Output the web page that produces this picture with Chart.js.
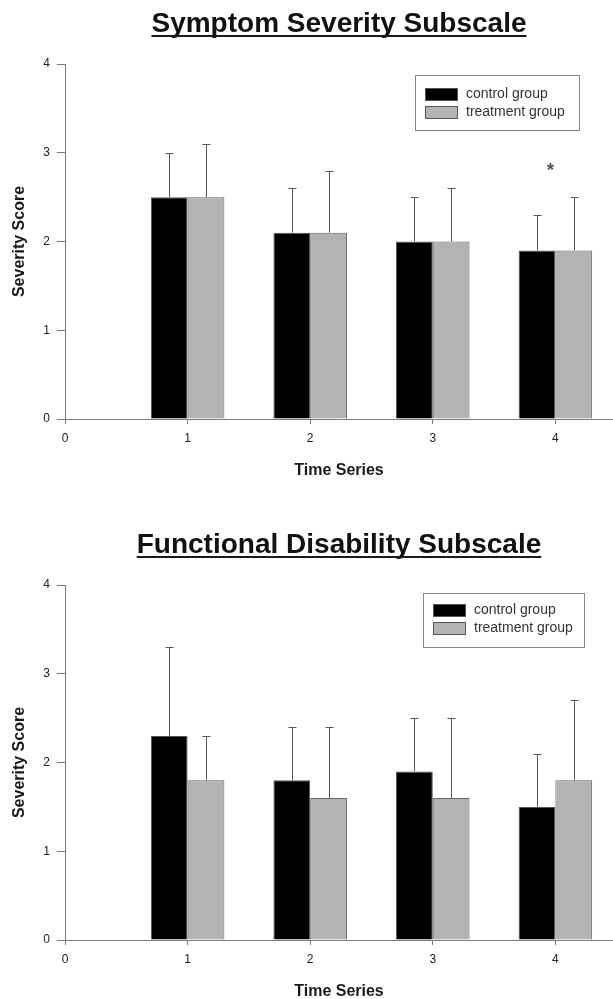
<!DOCTYPE html>
<html>
<head>
<meta charset="utf-8">
<script src="https://cdn.jsdelivr.net/npm/chart.js@4.4.1/dist/chart.umd.min.js"></script>
<style>
html,body{margin:0;padding:0;background:#fff;width:613px;height:999px;overflow:hidden;}
.wrap{position:absolute;left:0;width:613px;height:480px;}
</style>
</head>
<body>
<div class="wrap" style="top:0px"><canvas id="c1" width="613" height="480"></canvas></div>
<div class="wrap" style="top:521px"><canvas id="c2" width="613" height="480"></canvas></div>
<script>
// ---------- data ----------
const timePoints = [1, 2, 3, 4];
const xTickLabels = ['0', '1', '2', '3', '4'];
const yTickLabels = ['0', '1', '2', '3', '4'];
const seriesNames = ['control group', 'treatment group'];
const chartTitles = ['Symptom Severity Subscale', 'Functional Disability Subscale'];
const xAxisTitle = 'Time Series';
const yAxisTitle = 'Severity Score';

const symptomControl = [2.5, 2.1, 2.0, 1.9];
const symptomControlErrTop = [3.0, 2.6, 2.5, 2.3];
const symptomTreatment = [2.5, 2.1, 2.0, 1.9];
const symptomTreatmentErrTop = [3.1, 2.8, 2.6, 2.5];
const symptomMarks = [{ x: 3.96, y: 2.85, text: '*' }];

const functionalControl = [2.3, 1.8, 1.9, 1.5];
const functionalControlErrTop = [3.3, 2.4, 2.5, 2.1];
const functionalTreatment = [1.8, 1.6, 1.6, 1.8];
const functionalTreatmentErrTop = [2.3, 2.4, 2.5, 2.7];
const functionalMarks = [];

// ---------- styling ----------
const FONT = "'Liberation Sans', Arial, Helvetica, sans-serif";
Chart.defaults.font.family = FONT;
Chart.defaults.color = '#222';
const AXIS_GREY = '#7a7a7a';
const CONTROL_FILL = '#000000';
const TREAT_FILL = '#b3b3b3';

// error bars (upper only, with cap)
const errorBarPlugin = {
  id: 'errorBars',
  afterDatasetsDraw(chart) {
    const ctx = chart.ctx;
    const ys = chart.scales.y;
    chart.data.datasets.forEach((ds, di) => {
      const meta = chart.getDatasetMeta(di);
      meta.data.forEach((bar, i) => {
        const top = ys.getPixelForValue(ds.errorTop[i]);
        const x = Math.round(bar.x) + 0.5;
        const yt = Math.round(top) + 0.5;
        ctx.save();
        ctx.strokeStyle = '#555';
        ctx.lineWidth = 1;
        ctx.beginPath();
        ctx.moveTo(x, bar.y);
        ctx.lineTo(x, yt);
        ctx.moveTo(x - 4, yt);
        ctx.lineTo(x + 4, yt);
        ctx.stroke();
        ctx.restore();
      });
    });
  }
};

// significance marks at data coordinates
const marksPlugin = {
  id: 'marks',
  afterDatasetsDraw(chart, args, opts) {
    const ctx = chart.ctx;
    (opts.items || []).forEach(m => {
      const px = chart.scales.x.getPixelForValue(m.x);
      const py = chart.scales.y.getPixelForValue(m.y);
      ctx.save();
      ctx.font = 'bold 19px ' + FONT;
      ctx.fillStyle = '#555';
      ctx.textAlign = 'center';
      ctx.textBaseline = 'alphabetic';
      const mt = ctx.measureText(m.text);
      ctx.fillText(m.text, px, py + (mt.actualBoundingBoxAscent - mt.actualBoundingBoxDescent) / 2);
      ctx.restore();
    });
  }
};

// underline below the chart title
const underlinePlugin = {
  id: 'titleUnderline',
  afterDraw(chart) {
    const tb = chart.titleBlock;
    if (!tb) return;
    const topt = chart.options.plugins.title;
    const size = topt.font.size;
    const lh = size * 1.2;
    const midY = tb.top + topt.padding.top + lh / 2;
    const ctx = chart.ctx;
    ctx.save();
    ctx.font = 'bold ' + size + 'px ' + FONT;
    ctx.textBaseline = 'middle';
    const w = ctx.measureText(topt.text).width;
    const base = midY + ctx.measureText('H').actualBoundingBoxDescent;
    const cx = (tb.left + tb.right) / 2;
    ctx.fillStyle = '#1a1a1a';
    ctx.fillRect(cx - w / 2, Math.round(base + 3.5), w, 2);
    ctx.restore();
  }
};

// boxed legend inside the plot area
const boxLegendPlugin = {
  id: 'boxLegend',
  afterDraw(chart, args, o) {
    const ctx = chart.ctx;
    ctx.save();
    ctx.strokeStyle = '#888';
    ctx.lineWidth = 1;
    ctx.strokeRect(o.left + 0.5, o.top + 0.5, o.width, o.height);
    ctx.font = '14px ' + FONT;
    ctx.textBaseline = 'middle';
    ctx.textAlign = 'left';
    chart.data.datasets.forEach((ds, i) => {
      const sy = o.top + o.rowTop + i * o.rowGap;
      ctx.fillStyle = ds.backgroundColor;
      ctx.fillRect(o.left + o.swatchX, sy, 33, 13);
      ctx.strokeStyle = '#555';
      ctx.strokeRect(o.left + o.swatchX + 0.5, sy + 0.5, 32, 12);
      ctx.fillStyle = '#333';
      ctx.fillText(ds.label, o.left + o.swatchX + 33 + 8, sy + 6.5);
    });
    ctx.restore();
  }
};

function makeChart(id, title, control, controlErr, treat, treatErr, marks, legendPos) {
  return new Chart(document.getElementById(id), {
    type: 'bar',
    data: {
      labels: timePoints,
      datasets: [
        { label: seriesNames[0], data: control, errorTop: controlErr,
          backgroundColor: CONTROL_FILL, borderColor: '#555', borderWidth: 1 },
        { label: seriesNames[1], data: treat, errorTop: treatErr,
          backgroundColor: TREAT_FILL, borderColor: '#666', borderWidth: 1 }
      ]
    },
    plugins: [errorBarPlugin, marksPlugin, underlinePlugin, boxLegendPlugin],
    options: {
      responsive: false,
      animation: false,
      events: [],
      categoryPercentage: 0.6,
      barPercentage: 1.0,
      layout: { padding: { left: 0, right: 0, top: 0, bottom: 0 } },
      plugins: {
        legend: { display: false },
        tooltip: { enabled: false },
        title: {
          display: true, text: title, color: '#111', fullSize: false,
          font: { size: 28, weight: 'bold', family: FONT },
          padding: { top: 7, bottom: 23.4 }
        },
        marks: { items: marks },
        boxLegend: legendPos
      },
      scales: {
        x: {
          type: 'linear', min: 0, max: 4.47, offset: false,
          afterBuildTicks(s) { s.ticks = xTickLabels.map(l => ({ value: Number(l) })); },
          afterFit(s) { s.height = 61; },
          grid: { display: true, drawOnChartArea: false, drawTicks: true, tickLength: 5, color: AXIS_GREY, offset: false },
          border: { display: true, color: AXIS_GREY, width: 1 },
          ticks: { padding: 7, color: '#222', font: { size: 12 },
                   callback: v => xTickLabels.find(l => Number(l) === v) },
          title: { display: true, text: xAxisTitle, color: '#1a1a1a',
                   font: { size: 16, weight: 'bold' }, padding: { top: 0, bottom: 0 } }
        },
        y: {
          min: 0, max: 4,
          afterBuildTicks(s) { s.ticks = yTickLabels.map(l => ({ value: Number(l) })); },
          afterFit(s) { s.width = 65; },
          grid: { display: true, drawOnChartArea: false, drawTicks: true, tickLength: 8, color: AXIS_GREY },
          border: { display: true, color: AXIS_GREY, width: 1 },
          ticks: { padding: 7, color: '#222', font: { size: 12 },
                   callback: v => yTickLabels.find(l => Number(l) === v) },
          title: { display: true, text: yAxisTitle, color: '#1a1a1a',
                   font: { size: 16, weight: 'bold' }, padding: { top: 10.4, bottom: 0 } }
        }
      }
    }
  });
}

makeChart('c1', chartTitles[0], symptomControl, symptomControlErrTop, symptomTreatment, symptomTreatmentErrTop,
  symptomMarks, { left: 415, top: 75, width: 164, height: 55, swatchX: 10, rowTop: 13, rowGap: 18 });
makeChart('c2', chartTitles[1], functionalControl, functionalControlErrTop, functionalTreatment, functionalTreatmentErrTop,
  functionalMarks, { left: 423, top: 72, width: 161, height: 54, swatchX: 10, rowTop: 11, rowGap: 18 });
</script>
</body>
</html>
